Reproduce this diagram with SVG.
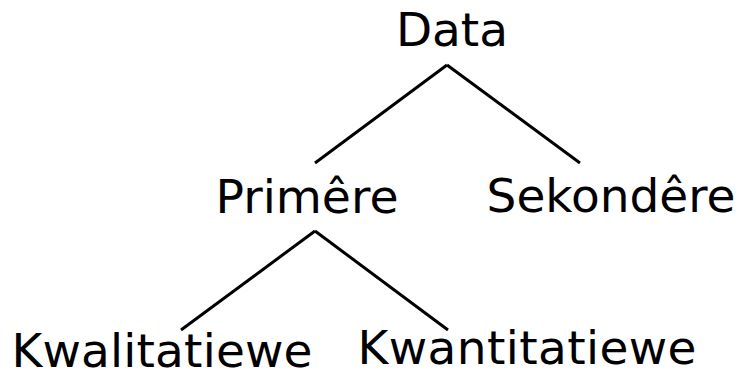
<svg xmlns="http://www.w3.org/2000/svg" width="739" height="375" viewBox="0 0 739 375">
  <style>
    .label { font-family: "DejaVu Sans", "Liberation Sans", sans-serif; font-size: 47px; fill: #000; text-anchor: middle; }
    .edge { stroke: #000; stroke-width: 3; fill: none; }
  </style>
  <rect width="739" height="375" fill="#fff"/>
  <g id="connectors">
    <line class="edge" x1="447" y1="65" x2="315" y2="163"/>
    <line class="edge" x1="447" y1="65" x2="580" y2="163"/>
    <line class="edge" x1="315" y1="231" x2="181" y2="330"/>
    <line class="edge" x1="315" y1="231" x2="448" y2="330"/>
  </g>
  <g id="data"><text class="label" x="452" y="46">Data</text></g>
  <g id="primere"><text class="label" x="307" y="213" textLength="183" lengthAdjust="spacingAndGlyphs">Primêre</text></g>
  <g id="sekondere"><text class="label" x="611" y="212">Sekondêre</text></g>
  <g id="kwalitatiewe"><text class="label" x="162" y="367" textLength="301" lengthAdjust="spacing">Kwalitatiewe</text></g>
  <g id="kwantitatiewe"><text class="label" x="527" y="364" textLength="339" lengthAdjust="spacing">Kwantitatiewe</text></g>
</svg>
